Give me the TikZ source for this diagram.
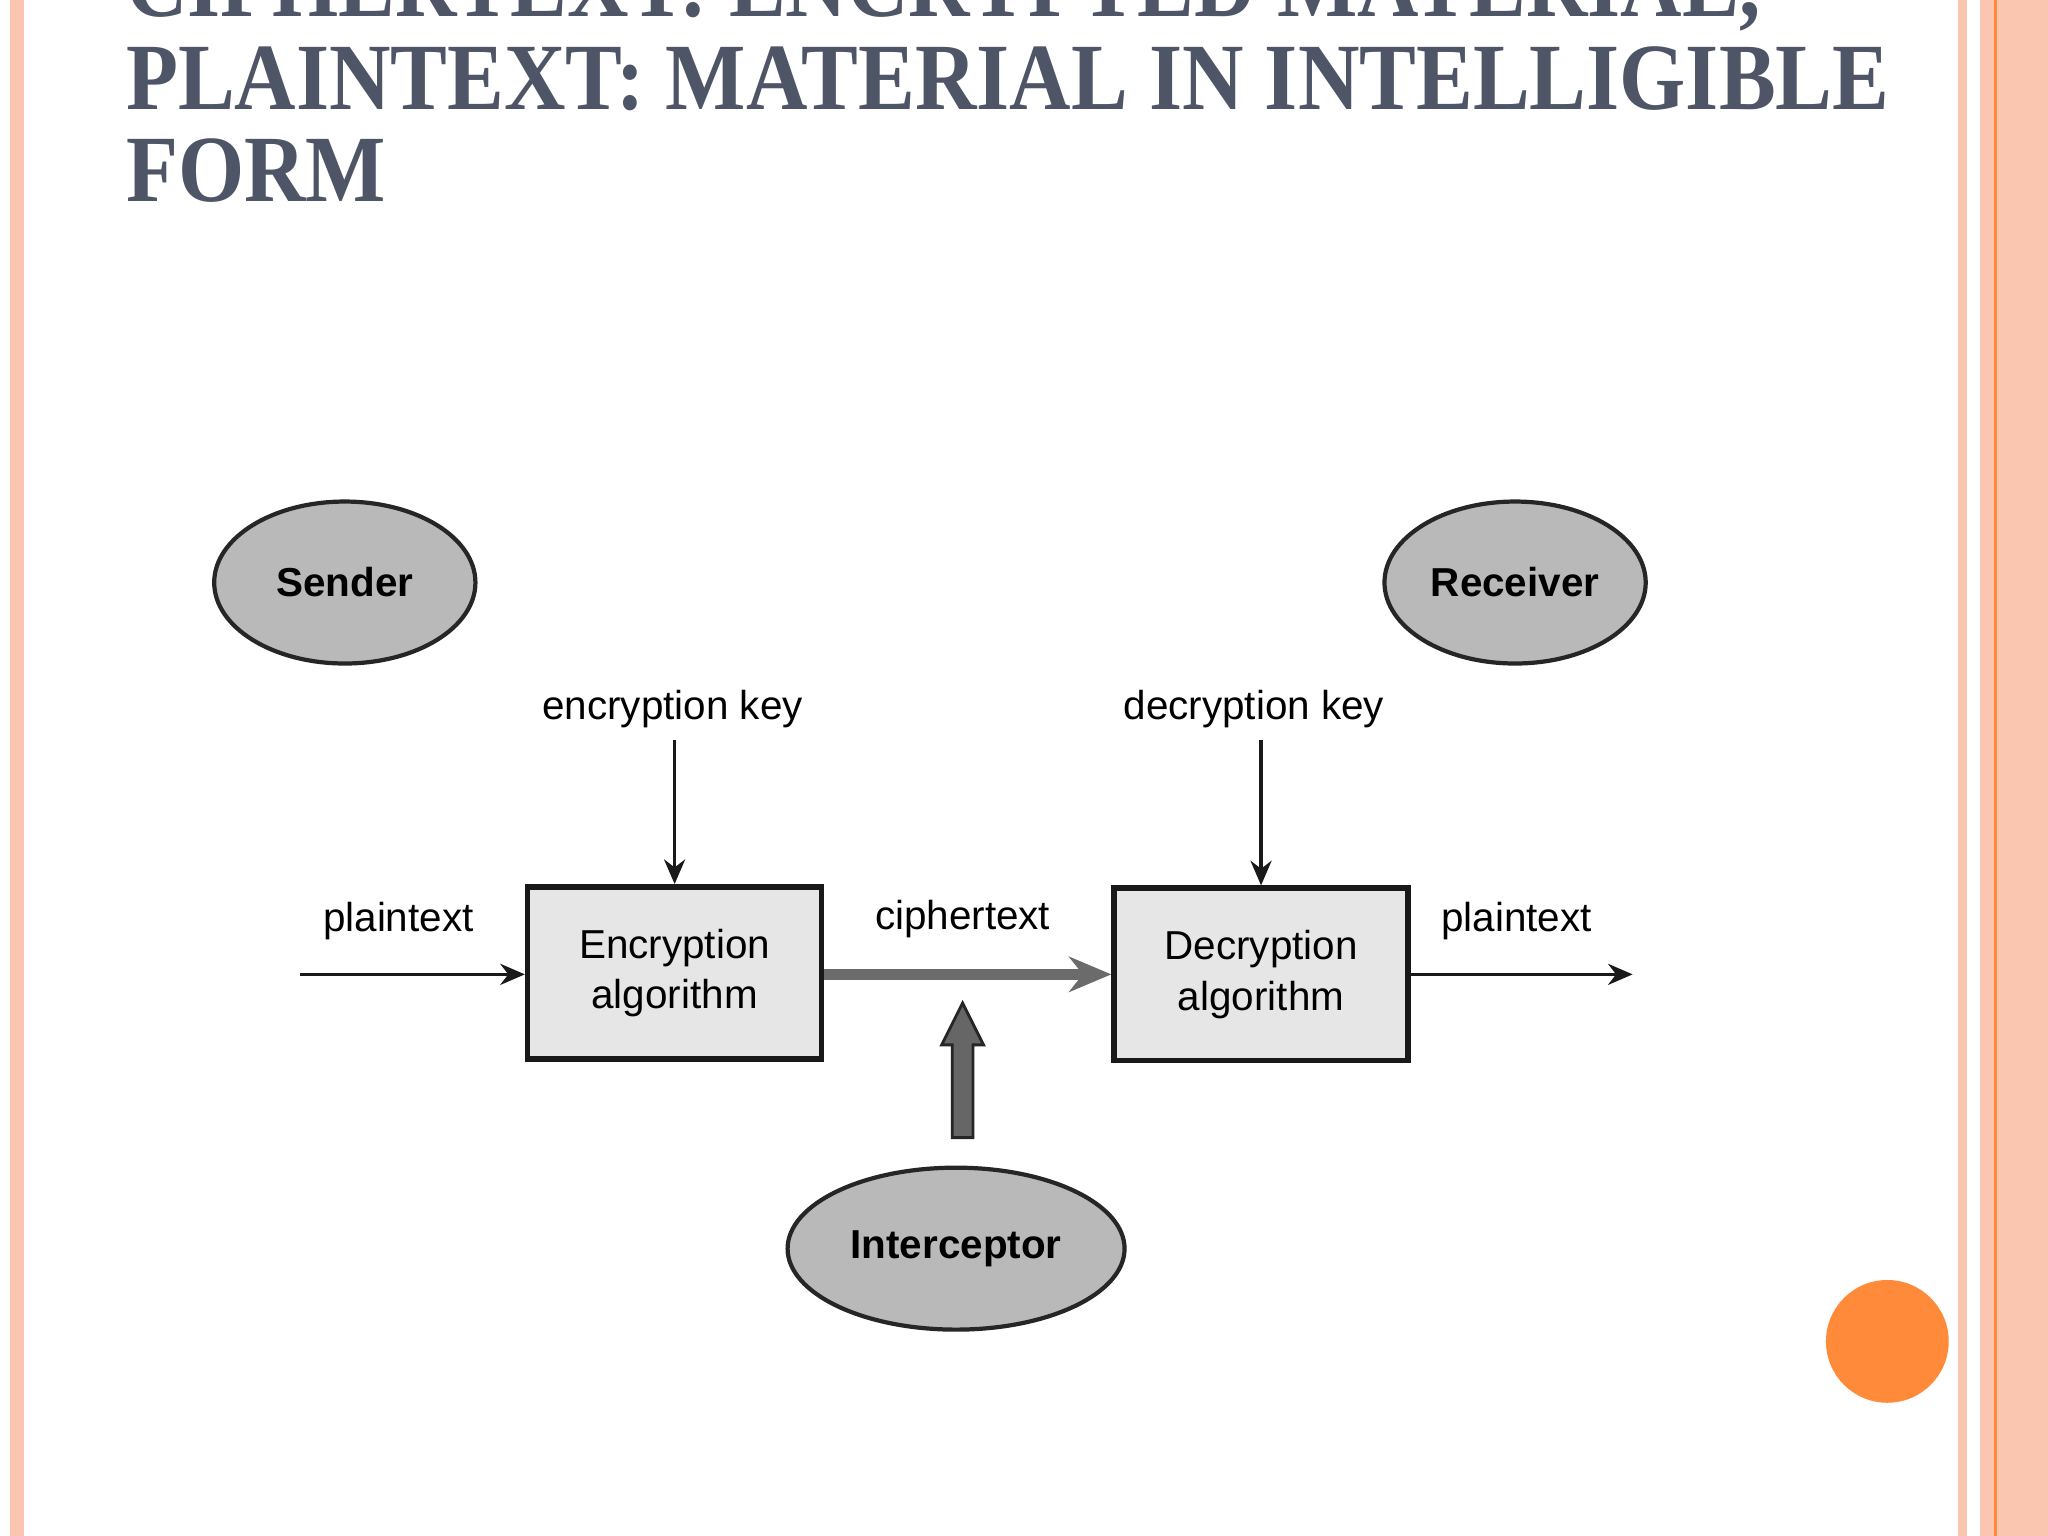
\documentclass[tikz,border=0pt]{standalone}
\usepackage{fontspec}
\setmainfont{Liberation Sans}
\newfontfamily\titlefont{Liberation Serif}
\usetikzlibrary{shapes.geometric,arrows.meta}
\definecolor{peach}{HTML}{FBC6B0}
\definecolor{titlec}{HTML}{4E5566}
\definecolor{ellc}{HTML}{B9B9B9}
\definecolor{boxc}{HTML}{E6E6E6}
\definecolor{orng}{HTML}{FF8A3A}
\newcommand{\ttlbox}[1]{\scalebox{0.897}[1]{#1}}
\tikzset{
  ell/.style={ellipse, draw=black!85, line width=1.2pt, fill=ellc, inner sep=0pt, minimum width=200*0.013061cm, minimum height=124*0.013061cm, font=\fontsize{11.5}{14}\selectfont\bfseries},
  algbox/.style={draw=black!90, line width=1.6pt, fill=boxc, minimum width=225*0.013061cm, minimum height=132*0.013061cm, align=center, font=\fontsize{11.5}{14.5}\selectfont},
  lbl/.style={font=\fontsize{11.5}{14}\selectfont},
  ttl/.style={anchor=base west, inner sep=0pt, text=titlec, font=\titlefont\fontsize{27}{33}\selectfont\bfseries},
  arr/.style={-{Stealth[length=7pt,width=6pt]}, line width=0.9pt, black!90}
}
\begin{document}
\begin{tikzpicture}[x=0.013061cm,y=-0.013061cm]
\useasboundingbox (0,0) rectangle (1568,1176);
\fill[white] (0,0) rectangle (1568,1176);
\fill[peach] (8,0) rectangle (18,1176);
\fill[peach] (1499,0) rectangle (1506,1176);
\fill[peach] (1516,0) rectangle (1568,1176);
\draw[orng, line width=0.8pt] (1528,0) -- (1528,1176);
\begin{scope}
\clip (0,0) rectangle (1568,1176);
\node[ttl] (title) at (96,13) {\ttlbox{CIPHERTEXT: ENCRYPTED MATERIAL,}};
\node[ttl] (t2) at (96,84) {\ttlbox{PLAINTEXT: MATERIAL IN INTELLIGIBLE}};
\node[ttl] (t3) at (96,154) {\ttlbox{FORM}};
\end{scope}
\node[ell] (sender) at (264,446) {Sender};
\node[ell] (receiver) at (1160,446) {Receiver};
\node[ell, minimum width=258*0.013061cm] (inter) at (732,956) {Interceptor};
\node[algbox] (enc) at (516.5,745) {Encryption\\algorithm};
\node[algbox] (dec) at (965.5,746) {Decryption\\algorithm};
\node[lbl] (ekey) at (515,543) {encryption key};
\node[lbl] (dkey) at (960,543) {decryption key};
\node[lbl] (pt1) at (305,705) {plaintext};
\node[lbl] (ct) at (737,704) {ciphertext};
\node[lbl] (pt2) at (1161,705) {plaintext};
\coordinate (pin) at (230,746);
\coordinate (pout) at (1250,746);
\draw[arr] (ekey.south -| enc.north) -- (enc.north);
\draw[arr] (dkey.south -| dec.north) -- (dec.north);
\draw[arr] (pin) -- (pin -| enc.west);
\draw[arr] (dec.east |- pout) -- (pout);
\draw[-{Stealth[length=12pt,width=10pt]}, line width=3pt, black!58] (enc.east |- 0,746) -- (dec.west |- 0,746);
\draw[black!85, fill=black!60, line width=0.8pt] (729,871) -- (745,871) -- (745,800) -- (753,800) -- (737,768) -- (721,800) -- (729,800) -- cycle;
\fill[orng] (1445,1027) circle (47);
\end{tikzpicture}
\end{document}
